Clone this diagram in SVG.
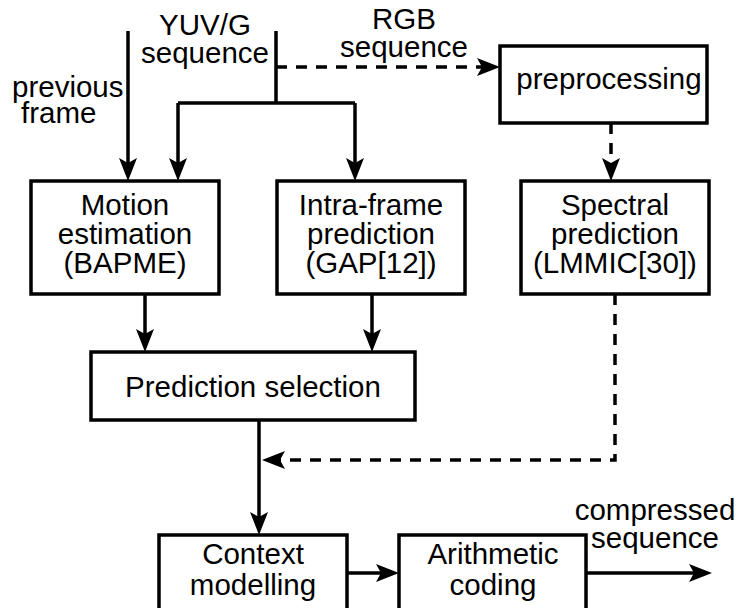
<svg xmlns="http://www.w3.org/2000/svg" width="738" height="608" viewBox="0 0 738 608">
<style>
.box{fill:#fff;stroke:#000;stroke-width:3.5}
.c{fill:none;stroke:#000;stroke-width:3.5}
.d{stroke-dasharray:11 9}
text{font-family:"Liberation Sans",Arial,sans-serif;font-size:29.5px;fill:#000}
.m{text-anchor:middle}
</style>
<defs>
<marker id="ah" markerUnits="userSpaceOnUse" markerWidth="24" markerHeight="20" viewBox="0 -10 24 20" refX="5" refY="0" orient="auto">
<path d="M23,0 L0,-9 L5,0 L0,9 Z" fill="#000"/>
</marker>
</defs>
<rect width="738" height="608" fill="#fff"/>
<g id="connectors">
<path class="c" d="M128,31 V163" marker-end="url(#ah)"/>
<path class="c" d="M276,31 V103 M178,103 H355"/>
<path class="c" d="M178,103 V163" marker-end="url(#ah)"/>
<path class="c" d="M355,103 V163" marker-end="url(#ah)"/>
<path class="c d" d="M276,67 H482" marker-end="url(#ah)"/>
<path class="c d" d="M611,123 V163" marker-end="url(#ah)"/>
<path class="c" d="M145,294 V334" marker-end="url(#ah)"/>
<path class="c" d="M372,294 V334" marker-end="url(#ah)"/>
<path class="c d" d="M615,294 V460 H280" marker-end="url(#ah)"/>
<path class="c" d="M259,420 V517" marker-end="url(#ah)"/>
<path class="c" d="M347,573 H381" marker-end="url(#ah)"/>
<path class="c" d="M586,573 H694" marker-end="url(#ah)"/>
</g>
<g id="labels">
<text class="m" x="205" y="35">YUV/G</text>
<text class="m" x="205" y="63">sequence</text>
<text x="12" y="97">previous</text>
<text x="21" y="123">frame</text>
<text class="m" x="404" y="29">RGB</text>
<text class="m" x="404" y="57">sequence</text>
<text class="m" x="655" y="520">compressed</text>
<text class="m" x="655" y="548">sequence</text>
</g>
<g id="preprocessing">
<rect class="box" x="500" y="46" width="207" height="77"/>
<text class="m" x="609" y="89">preprocessing</text>
</g>
<g id="motion">
<rect class="box" x="31" y="181" width="188" height="113"/>
<text class="m" x="125" y="215">Motion</text>
<text class="m" x="125" y="244">estimation</text>
<text class="m" x="125" y="273">(BAPME)</text>
</g>
<g id="intra">
<rect class="box" x="277" y="181" width="188" height="113"/>
<text class="m" x="371" y="215">Intra-frame</text>
<text class="m" x="371" y="244">prediction</text>
<text class="m" x="371" y="273">(GAP[12])</text>
</g>
<g id="spectral">
<rect class="box" x="521" y="181" width="188" height="113"/>
<text class="m" x="615" y="215">Spectral</text>
<text class="m" x="615" y="244">prediction</text>
<text class="m" x="615" y="273">(LMMIC[30])</text>
</g>
<g id="selection">
<rect class="box" x="91" y="352" width="324" height="68"/>
<text class="m" x="253" y="397">Prediction selection</text>
</g>
<g id="context">
<rect class="box" x="159" y="535" width="188" height="80"/>
<text class="m" x="253" y="564">Context</text>
<text class="m" x="253" y="595">modelling</text>
</g>
<g id="arithmetic">
<rect class="box" x="399" y="535" width="187" height="80"/>
<text class="m" x="493" y="564">Arithmetic</text>
<text class="m" x="493" y="595">coding</text>
</g>
</svg>
